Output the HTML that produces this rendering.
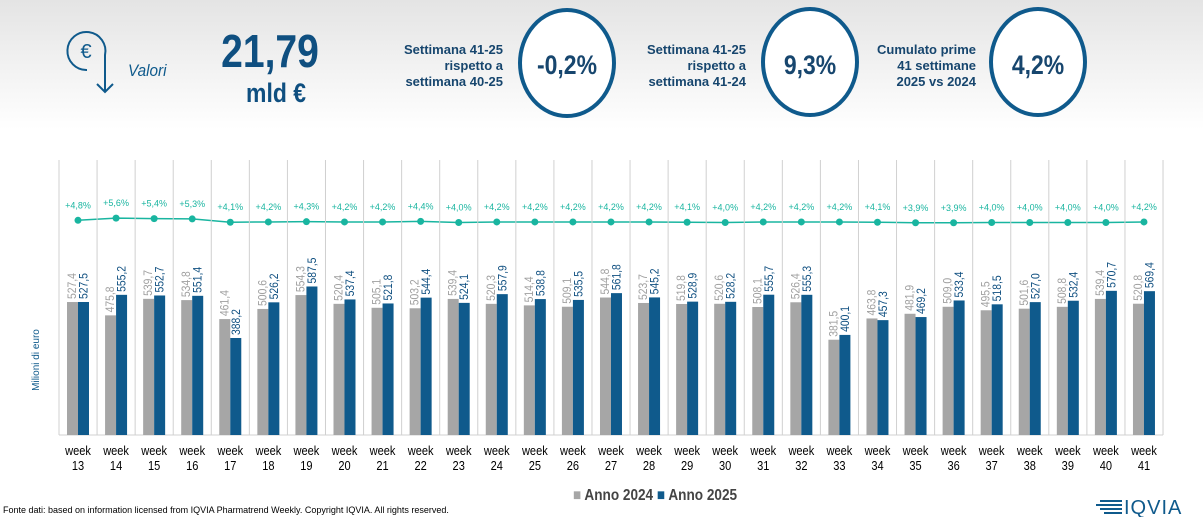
<!DOCTYPE html>
<html><head><meta charset="utf-8"><style>
body{margin:0;width:1203px;height:517px;overflow:hidden;font-family:"Liberation Sans",sans-serif;}
</style></head><body>
<svg width="1203" height="517" xmlns="http://www.w3.org/2000/svg" font-family="Liberation Sans, sans-serif">
<defs><linearGradient id="bg" x1="0" y1="0" x2="0" y2="1"><stop offset="0" stop-color="#e4e4e4"/><stop offset="0.25" stop-color="#ffffff"/></linearGradient></defs>
<rect width="1203" height="517" fill="url(#bg)"/>
<g fill="none" stroke="#0f5a8c" stroke-width="2">
<path d="M87 70 A19 19 0 1 1 105 55 L105 92"/>
<path d="M97 84 L105 92 L113 84"/>
</g>
<text x="86" y="58" font-size="20" fill="#0f5a8c" text-anchor="middle">€</text>
<text transform="translate(128,76) scale(0.9,1)" font-size="17" font-style="italic" fill="#0f5a8c">Valori</text>
<g transform="translate(270,0) scale(0.85,1)"><text x="0" y="67" font-size="46" font-weight="bold" fill="#0f4f80" text-anchor="middle">21,79</text></g>
<g transform="translate(276,0) scale(0.85,1)"><text x="0" y="102" font-size="27" font-weight="bold" fill="#0f4f80" text-anchor="middle">mld €</text></g>
<g font-size="13" font-weight="bold" fill="#17466e" text-anchor="end">
<text x="503" y="54">Settimana 41-25</text><text x="503" y="70">rispetto a</text><text x="503" y="86">settimana 40-25</text>
<text x="746" y="54">Settimana 41-25</text><text x="746" y="70">rispetto a</text><text x="746" y="86">settimana 41-24</text>
<text x="976" y="54">Cumulato prime</text><text x="976" y="70">41 settimane</text><text x="976" y="86">2025 vs 2024</text>
</g>
<g fill="#fff" stroke="#0f5a8c" stroke-width="4">
<ellipse cx="567" cy="63" rx="47" ry="53"/><ellipse cx="810" cy="62" rx="47" ry="53"/><ellipse cx="1038" cy="62" rx="47" ry="53"/>
</g>
<g font-size="27" font-weight="bold" fill="#17466e" text-anchor="middle">
<text transform="translate(567,74) scale(0.85,1)">-0,2%</text><text transform="translate(810,74) scale(0.85,1)">9,3%</text><text transform="translate(1038,74) scale(0.85,1)">4,2%</text>
</g>
<text transform="translate(39,360) rotate(-90)" font-size="10" fill="#0f5a8c" text-anchor="middle">Milioni di euro</text>
<g id="chart"></g>
<g transform="translate(655,500) scale(0.85,1)"><text x="0" y="0" font-size="16" font-weight="bold" fill="#444" text-anchor="middle">
<tspan fill="#a6a6a6">■</tspan> Anno 2024  <tspan fill="#0f5a8c">■</tspan> Anno 2025</text></g>
<text x="3" y="513" font-size="9" fill="#000">Fonte dati: based on information licensed from IQVIA Pharmatrend Weekly. Copyright IQVIA. All rights reserved.</text>
<g fill="#0f5a8c"><rect x="1100" y="500" width="22" height="2"/><rect x="1096" y="504" width="26" height="2"/><rect x="1100" y="508" width="22" height="2"/><rect x="1104" y="512" width="18" height="2"/></g>
<text x="1124" y="514" font-size="20" fill="#0f5a8c" letter-spacing="1">IQVIA</text>
</svg>
<script>
var a=[527.4,475.8,539.7,534.8,461.4,500.6,554.3,520.4,505.1,503.2,539.4,520.3,514.4,509.1,544.8,523.7,519.8,520.6,508.1,526.4,381.5,463.8,481.9,509.0,495.5,501.6,508.8,539.4,520.8];
var b=[527.5,555.2,552.7,551.4,388.2,526.2,587.5,537.4,521.8,544.4,524.1,557.9,538.8,535.5,561.8,545.2,528.9,528.2,555.7,555.3,400.1,457.3,469.2,533.4,518.5,527.0,532.4,570.7,569.4];
var p=[4.8,5.6,5.4,5.3,4.1,4.2,4.3,4.2,4.2,4.4,4.0,4.2,4.2,4.2,4.2,4.2,4.1,4.0,4.2,4.2,4.2,4.1,3.9,3.9,4.0,4.0,4.0,4.0,4.2];
var s='',w=38.07,pts=[];
function f(v){return v.toFixed(1).replace('.',',');}
for(var i=0;i<=29;i++){var x=59+w*i;s+='<line x1="'+x+'" y1="160" x2="'+x+'" y2="435" stroke="#d0d0d0" stroke-width="1"/>';}
s+='<line x1="59" y1="435" x2="1163" y2="435" stroke="#d0d0d0"/>';
for(var i=0;i<29;i++){
var c=78+w*i,ya=438.3-a[i]*0.2584,yb=438.3-b[i]*0.2584;
s+='<rect x="'+(c-11)+'" y="'+ya+'" width="11" height="'+(435-ya)+'" fill="#a6a6a6"/>';
s+='<rect x="'+c+'" y="'+yb+'" width="11" height="'+(435-yb)+'" fill="#0f5a8c"/>';
s+='<text transform="translate('+(c-2)+','+(ya-3)+') rotate(-90) scale(0.9,1)" font-size="11.5" fill="#a0a0a0">'+f(a[i])+'</text>';
s+='<text transform="translate('+(c+9.5)+','+(yb-3)+') rotate(-90) scale(0.9,1)" font-size="11.5" fill="#0f4f80">'+f(b[i])+'</text>';
var yp=233.5-2.75*p[i];pts.push(c+','+yp);
s+='<circle cx="'+c+'" cy="'+yp+'" r="3.5" fill="#19b5a0"/>';
s+='<text x="'+c+'" y="'+(yp-12)+'" font-size="9" fill="#19b5a0" text-anchor="middle">+'+p[i].toFixed(1).replace('.',',')+'%</text>';
s+='<text transform="translate('+c+',455) scale(0.85,1)" font-size="13" fill="#000" text-anchor="middle">week</text>';
s+='<text transform="translate('+c+',470) scale(0.85,1)" font-size="13" fill="#000" text-anchor="middle">'+(13+i)+'</text>';
}
s='<polyline points="'+pts.join(' ')+'" fill="none" stroke="#19b5a0" stroke-width="1.5"/>'+s;
document.getElementById('chart').innerHTML=s;
</script>
</body></html>
